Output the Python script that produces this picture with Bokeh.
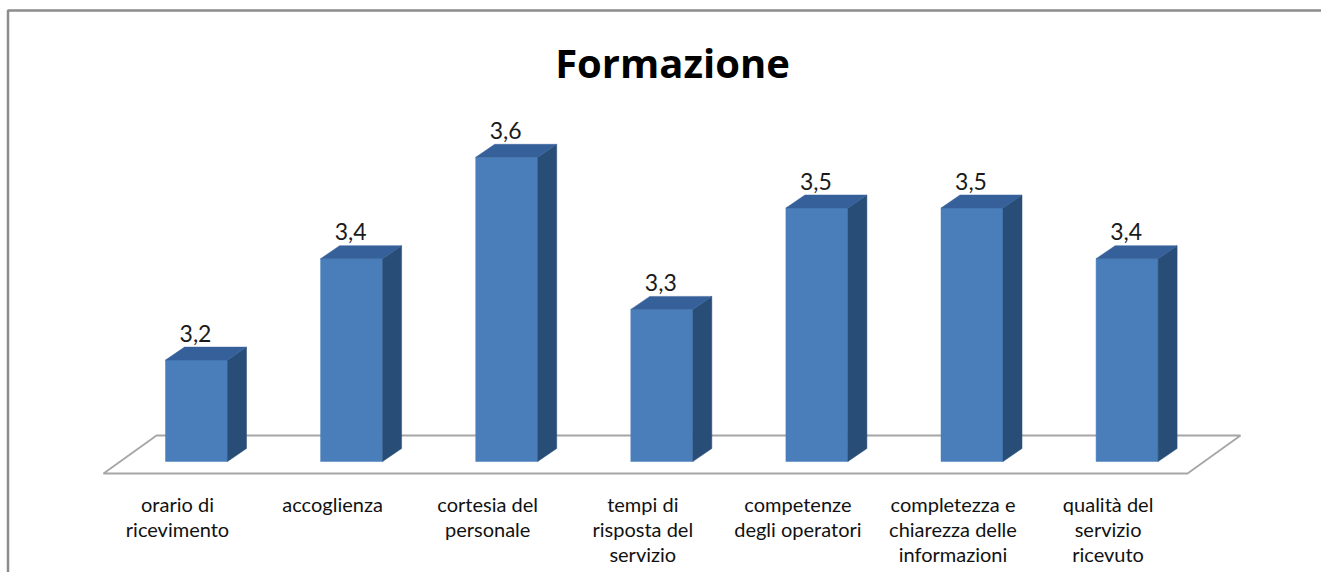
from bokeh.plotting import figure
from bokeh.models import Range1d, ColumnDataSource
from bokeh.core.properties import value
from bokeh.embed import file_html
from bokeh.resources import INLINE

# ---- data ----
title_text = "Formazione"
categories = [
    "orario di\nricevimento",
    "accoglienza",
    "cortesia del\npersonale",
    "tempi di\nrisposta del\nservizio",
    "competenze\ndegli operatori",
    "completezza e\nchiarezza delle\ninformazioni",
    "qualità del\nservizio\nricevuto",
]
values = [3.2, 3.4, 3.6, 3.3, 3.5, 3.5, 3.4]
axis_min = 3.0

# ---- layout constants (pixel geometry of the picture) ----
W, H = 1321, 572
PX_CAT = 155.1      # px per category
PX_UNIT = 507.0     # px per value unit
X0 = 177.0          # x of category 0 (label centre)
Y0 = 461.0          # y of axis_min (bar front bottom)

def xd(X):
    return (X - X0) / PX_CAT

def vd(Y):
    return axis_min + (Y0 - Y) / PX_UNIT

FONT = value("Lato")

p = figure(width=W, height=H, output_backend="svg", toolbar_location=None,
           x_range=Range1d(xd(0), xd(W)), y_range=Range1d(vd(H), vd(0)),
           min_border=0)
p.axis.visible = False
p.grid.visible = False
p.outline_line_color = None
p.background_fill_color = "white"
p.border_fill_color = "white"

# chart border (clipped on right/bottom)
p.line([xd(7.5), xd(7.5), xd(1340)], [vd(600), vd(10), vd(10)],
       line_color="#8c8c8c", line_width=2.5)

# floor
f_front_y = vd(473)
f_back_y = vd(435)
f_l = xd(103)
f_r = xd(1187)
fdx = 53 / PX_CAT
p.patch([f_l, f_r, f_r + fdx, f_l + fdx], [f_front_y, f_front_y, f_back_y, f_back_y],
        fill_color="white", line_color="#a6a6a6", line_width=1.8)

# bars
n = len(values)
off = 19 / PX_CAT
hw = 31 / PX_CAT
ddx = 19 / PX_CAT
ddv = 13 / PX_UNIT
lefts = [i + off - hw for i in range(n)]
rights = [i + off + hw for i in range(n)]

p.quad(left=lefts, right=rights, bottom=[axis_min] * n, top=values,
       fill_color="#4a7ebb", line_color="#4a7ebb", line_width=0.5)

side_xs, side_ys, top_xs, top_ys = [], [], [], []
for l, r, v in zip(lefts, rights, values):
    side_xs.append([r, r + ddx, r + ddx, r])
    side_ys.append([axis_min, axis_min + ddv, v + ddv, v])
    top_xs.append([l, r, r + ddx, l + ddx])
    top_ys.append([v, v, v + ddv, v + ddv])
p.patches(side_xs, side_ys, fill_color="#284e78", line_color="#284e78", line_width=0.5)
p.patches(top_xs, top_ys, fill_color="#36609a", line_color="#36609a", line_width=0.5)

# value labels
lab_src = ColumnDataSource(dict(
    x=[i + off - 1 / PX_CAT for i in range(n)],
    y=[v + 27 / PX_UNIT for v in values],
    t=[f"{v:.1f}".replace(".", ",") for v in values],
))
p.text(x="x", y="y", text="t", source=lab_src, text_font=FONT,
       text_font_size="23px", text_align="center", text_baseline="middle",
       text_color="#1a1a1a")

# category labels (one glyph per line)
cx, cy, ct = [], [], []
for i, c in enumerate(categories):
    for k, line in enumerate(c.split("\n")):
        cx.append(i)
        cy.append(vd(503 + 25 * k))
        ct.append(line)
p.text(x=cx, y=cy, text=ct, text_font=FONT, text_font_size="20px",
       text_align="center", text_baseline="middle", text_color="#111111")

# title
p.text(x=[xd(672)], y=[vd(62)], text=[title_text], text_font=value("Open Sans"),
       text_font_size="40px", text_font_style="bold", text_align="center",
       text_baseline="middle", text_color="black")

open("out.html", "w").write(file_html(p, INLINE))
